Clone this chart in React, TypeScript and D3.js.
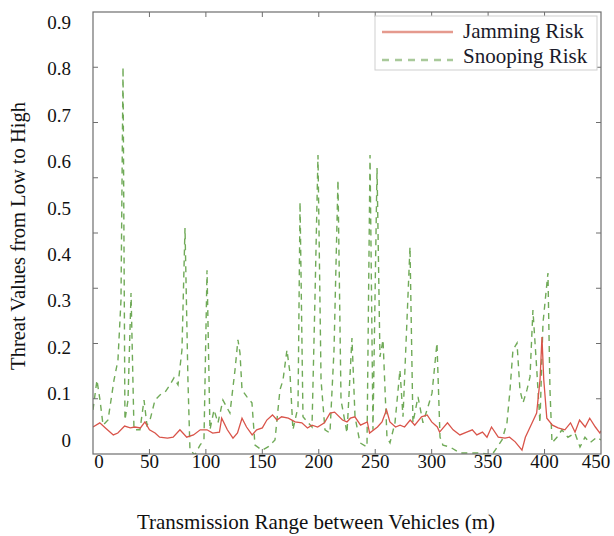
import React from 'react';
import * as d3 from 'd3';

// jamming risk trace (distance in m, threat value)
const jammingX = [0, 6, 11, 18, 22, 28, 33, 37, 42, 46, 50, 55, 59, 66, 71, 77, 83, 89, 95, 101, 106, 112, 114, 119, 124, 128, 132, 136, 141, 145, 150, 154, 159, 163, 167, 173, 179, 185, 190, 194, 199, 205, 210, 214, 221, 225, 228, 232, 237, 243, 245, 252, 256, 260, 263, 268, 272, 276, 281, 285, 291, 296, 300, 305, 307, 314, 319, 325, 331, 336, 340, 345, 349, 353, 359, 365, 369, 374, 380, 383, 389, 393, 396, 397.7, 399.3, 402, 407, 412, 418, 423, 427, 431, 436, 440, 445, 449, 450];
const jammingY = [0.028, 0.037, 0.026, 0.011, 0.015, 0.03, 0.026, 0.028, 0.026, 0.039, 0.022, 0.015, 0.006, 0.004, 0.006, 0.022, 0.006, 0.011, 0.022, 0.022, 0.015, 0.017, 0.047, 0.022, 0.004, 0.015, 0.047, 0.028, 0.011, 0.022, 0.026, 0.043, 0.054, 0.043, 0.05, 0.047, 0.039, 0.037, 0.026, 0.032, 0.028, 0.037, 0.058, 0.06, 0.043, 0.039, 0.047, 0.05, 0.032, 0.039, 0.015, 0.028, 0.039, 0.065, 0.039, 0.028, 0.032, 0.028, 0.043, 0.032, 0.05, 0.054, 0.039, 0.028, 0.017, 0.037, 0.022, 0.011, 0.017, 0.022, 0.011, 0.017, 0.006, 0.028, 0.006, 0.004, 0.006, -0.004, -0.022, 0.006, 0.037, 0.058, 0.13, 0.222, 0.13, 0.047, 0.032, 0.026, 0.022, 0.037, 0.017, 0.043, 0.028, 0.047, 0.028, 0.015, 0.02];

// snooping risk trace
const snoopingX = [0, 3.5, 6.2, 8.9, 13.3, 18.6, 22.1, 24.8, 26.6, 28.3, 31, 33.7, 36.3, 41.6, 45.2, 47.8, 50.5, 54.9, 59.3, 63.8, 68.2, 71.7, 75.3, 78.8, 81.5, 84.1, 85.9, 90.3, 94.8, 98.3, 101, 103.6, 107.2, 110.7, 115.1, 121.3, 125.8, 128.4, 130.2, 132, 136.4, 140.8, 143.5, 149.7, 155, 161.2, 165.6, 168.3, 171.8, 174.5, 177.1, 181.6, 183.4, 186, 194, 196.6, 199.3, 202, 205.5, 209.9, 213.5, 217, 219.7, 225, 229.4, 232.1, 236.5, 242.7, 245.4, 248, 251.6, 254.2, 256.9, 260.4, 263.1, 267.5, 271.9, 274.6, 280.8, 283.4, 287.9, 292.3, 296.7, 300.3, 304.7, 307.4, 310, 316.2, 325.1, 333.9, 342.8, 353.4, 362.3, 366.7, 369.4, 372, 375.6, 378.2, 380.9, 384.4, 387.1, 389.7, 393.3, 395.9, 398.6, 403, 404.8, 406.6, 411, 415.4, 420.7, 426.9, 431.4, 435.8, 440.2, 446.4, 450];
const snoopingY = [0.065, 0.129, 0.086, 0.032, 0.043, 0.129, 0.172, 0.302, 0.804, 0.043, 0.086, 0.317, 0.022, 0.022, 0.086, 0.032, 0.043, 0.086, 0.097, 0.103, 0.119, 0.134, 0.119, 0.194, 0.457, 0.129, -0.022, -0.032, -0.011, 0, 0.366, 0.022, 0.065, 0.037, 0.086, 0.058, 0.151, 0.216, 0.188, 0.108, 0.093, 0.08, -0.011, -0.022, -0.015, 0, 0.108, 0.129, 0.194, 0.144, 0.022, 0.071, 0.513, 0.05, 0.028, 0.302, 0.614, 0.129, 0.022, 0.015, 0.194, 0.56, 0.086, 0.015, 0.22, 0.05, -0.006, -0.015, 0.614, 0.022, 0.586, 0.179, 0.216, 0.006, -0.006, 0.037, 0.151, 0.05, 0.416, 0.037, 0.093, 0.037, 0.071, 0.101, 0.209, 0.006, -0.011, -0.015, -0.028, -0.028, -0.028, -0.032, 0, 0.037, 0.108, 0.194, 0.209, 0.108, 0.08, 0.108, 0.136, 0.28, 0.144, 0.037, 0.252, 0.36, 0.108, -0.006, 0.006, 0.022, 0.006, 0.015, -0.015, 0.006, -0.006, 0.006, 0];

const xTicks = [0, 50, 100, 150, 200, 250, 300, 350, 400, 450];
const yTicks = [0, 0.1, 0.2, 0.3, 0.4, 0.5, 0.6, 0.7, 0.8, 0.9];
const seriesNames = ['Jamming Risk', 'Snooping Risk'];

const FONT = "'Liberation Serif', 'Times New Roman', serif";
const RED = '#d9544a';
const GREEN = '#70aa58';

export default function App() {
  const box = { left: 93, top: 12, right: 601, bottom: 454 };

  const x = d3.scaleLinear().domain([0, 450]).range([box.left, box.right]);
  const y = d3.scaleLinear().domain([0, 0.9]).range([440, 22.4]);
  // inner frame ticks of the box (not aligned with the value labels)
  const frameY = d3.scaleLinear().domain([0, 8]).range([box.bottom, box.top]);

  const line = d3
    .line<[number, number]>()
    .x((d) => x(d[0]))
    .y((d) => y(d[1]));

  const jamming = jammingX.map((v, i) => [v, jammingY[i]] as [number, number]);
  const snooping = snoopingX.map((v, i) => [v, snoopingY[i]] as [number, number]);

  const innerX = xTicks.slice(1, -1);
  const innerY = frameY.ticks(8).slice(1, -1);
  const txt = { fontFamily: FONT };

  return (
    <svg width={614} height={536} style={{ display: 'block', position: 'absolute', left: 0, top: 0 }}>
      <rect width={614} height={536} fill="#fff" />
      <defs>
        <clipPath id="plot">
          <rect x={box.left} y={box.top} width={box.right - box.left} height={box.bottom - box.top} />
        </clipPath>
      </defs>

      <g clipPath="url(#plot)" fill="none">
        <path d={line(snooping) || ''} stroke={GREEN} strokeWidth={1.4} strokeDasharray="6,5" />
        <path d={line(jamming) || ''} stroke={RED} strokeWidth={1.3} />
      </g>

      {/* frame */}
      <rect x={box.left} y={box.top} width={box.right - box.left} height={box.bottom - box.top} fill="none" stroke="#6e6e6e" strokeWidth={1.2} />
      {innerX.map((t) => (
        <g key={'xt' + t} stroke="#6e6e6e" strokeWidth={1}>
          <line x1={x(t)} x2={x(t)} y1={box.bottom} y2={box.bottom - 5} />
          <line x1={x(t)} x2={x(t)} y1={box.top} y2={box.top + 5} />
        </g>
      ))}
      {innerY.map((t) => (
        <g key={'yt' + t} stroke="#6e6e6e" strokeWidth={1}>
          <line x1={box.left} x2={box.left + 5} y1={frameY(t)} y2={frameY(t)} />
          <line x1={box.right} x2={box.right - 5} y1={frameY(t)} y2={frameY(t)} />
        </g>
      ))}

      {/* value labels */}
      {yTicks.map((t) => (
        <text key={'yl' + t} x={71} y={y(t)} dy="0.35em" textAnchor="end" fontSize={19} fill="#111" style={txt}>
          {t === 0 ? '0' : d3.format('.1f')(t)}
        </text>
      ))}
      {xTicks.map((t) => (
        <text key={'xl' + t} x={x(t) + (t === 0 ? 6 : t === 450 ? -5 : 0)} y={468} textAnchor="middle" fontSize={19} fill="#111" style={txt}>
          {t}
        </text>
      ))}

      <text x={316} y={529} textAnchor="middle" fontSize={21} fill="#111" style={txt}>
        Transmission Range between Vehicles (m)
      </text>
      <text transform="translate(25,236) rotate(-90)" textAnchor="middle" fontSize={20.5} fill="#111" style={txt}>
        Threat Values from Low to High
      </text>

      {/* legend */}
      <g>
        <rect x={375} y={16} width={222} height={54} fill="#fff" stroke="#cfcfcf" strokeWidth={1} />
        <line x1={382} x2={453} y1={32} y2={32} stroke="#e59a8e" strokeWidth={2.5} />
        <line x1={382} x2={453} y1={60} y2={60} stroke="#a9c99a" strokeWidth={2.5} strokeDasharray="7,6" />
        <text x={463} y={38} fontSize={21} fill="#1a1a2a" style={txt}>{seriesNames[0]}</text>
        <text x={463} y={63} fontSize={21} fill="#1a1a2a" style={txt}>{seriesNames[1]}</text>
      </g>
    </svg>
  );
}
